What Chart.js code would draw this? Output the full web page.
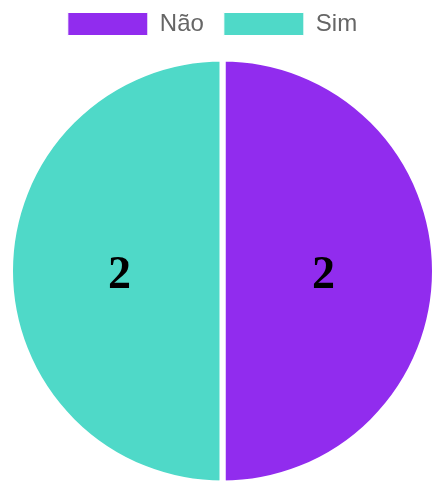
<!DOCTYPE html>
<html>
<head>
<meta charset="utf-8">
<script src="https://cdn.jsdelivr.net/npm/chart.js@4/dist/chart.umd.min.js"></script>
<style>
  html, body { margin: 0; padding: 0; background: #fff; overflow: hidden; width: 432px; height: 481px; }
  /* canvas runs a little past the window: the pie is cut at the right and bottom edges */
  #wrap { width: 438px; height: 496px; }
</style>
</head>
<body>
<div id="wrap"><canvas id="pieChart"></canvas></div>
<script>
const labels = ['Não', 'Sim'];
const values = [2, 2];
const colors = ['#912cee', '#4fd9c8'];

// draws the value inside each slice
const sliceLabels = {
  id: 'sliceLabels',
  afterDatasetsDraw(chart) {
    const ctx = chart.ctx;
    const meta = chart.getDatasetMeta(0);
    ctx.save();
    ctx.font = 'bold 46px "Liberation Serif", "Times New Roman", serif';
    ctx.fillStyle = '#000';
    ctx.textAlign = 'center';
    ctx.textBaseline = 'middle';
    meta.data.forEach((arc, i) => {
      const pos = arc.tooltipPosition();
      const x = arc.x + (pos.x - arc.x) * 0.96;
      const y = arc.y + (pos.y - arc.y) * 0.96;
      ctx.fillText(String(chart.data.datasets[0].data[i]), x - 1, y + 5);
    });
    ctx.restore();
  },
};

// legend sits a bit left of the pie's centre in the original
const legendShift = {
  id: 'legendShift',
  afterLayout(chart) {
    if (!chart.legend) return;
    chart.legend.left -= 10;
    chart.legend.right -= 10;
  },
};

new Chart(document.getElementById('pieChart'), {
  type: 'pie',
  data: {
    labels: labels,
    datasets: [
      {
        data: values,
        backgroundColor: colors,
        borderColor: '#fff',
        borderWidth: 6,
      },
    ],
  },
  options: {
    responsive: true,
    maintainAspectRatio: false,
    animation: false,
    layout: {
      padding: { left: 7, right: 0, top: -8, bottom: 0 },
    },
    plugins: {
      tooltip: { enabled: false },
      legend: {
        position: 'top',
        labels: {
          boxWidth: 80,
          boxHeight: 23,
          padding: 20,
          color: '#666',
          font: { family: '"Liberation Sans", Arial, sans-serif', size: 24 },
          generateLabels(chart) {
            const items = Chart.overrides.doughnut.plugins.legend.labels.generateLabels(chart);
            return items.map((item) => ({ ...item, lineWidth: 1 }));
          },
        },
      },
    },
  },
  plugins: [sliceLabels, legendShift],
});
</script>
</body>
</html>
